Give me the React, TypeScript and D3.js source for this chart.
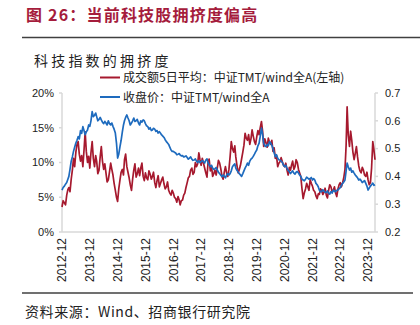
import React from "react";
import * as d3 from "d3";

const startMonth = "2012-12";
const endMonth = "2024-03";

// 成交额5日平均：中证TMT/wind全A (%), semi-monthly (1st, 16th) from 2012-12-01
const turnoverRatio: number[] = [
  3.6, 4.5,
  4.2, 3.9, 5.3, 6.1, 6.4, 5.8, 7.6, 8.9, 10.6, 9.4, 11.5, 12.6,
  13.0, 11.2, 10.2, 11.0, 9.4, 11.8, 14.4, 11.6, 10.0, 10.9, 9.2, 11.4,
  13.0, 10.6, 9.4, 11.0, 10.2, 8.4, 8.9, 10.8, 12.3, 10.2, 9.0, 9.8,
  8.5, 7.2, 7.5, 8.6, 9.9, 9.0, 8.2, 7.0, 6.0, 5.0, 4.4, 6.2,
  7.5, 8.6, 9.0, 8.2, 10.4, 11.2, 9.4, 8.6, 7.8, 6.8, 6.0, 7.6,
  8.9, 9.8, 7.9, 8.4, 9.2, 8.1, 9.2, 9.9, 8.0, 7.4, 8.5, 7.8,
  7.5, 8.8, 8.3, 7.6, 8.0, 8.6, 7.1, 6.4, 7.4, 8.1, 6.5, 7.0,
  7.5, 7.9, 6.9, 6.2, 6.5, 7.2, 6.0, 5.6, 5.3, 6.0, 5.6, 5.0,
  4.8, 4.3, 5.1, 4.6, 3.9, 4.5, 4.6, 5.3, 5.6, 6.4, 7.1, 7.8,
  8.0, 8.9, 9.2, 8.3, 8.6, 10.0, 9.4, 9.8, 11.4, 10.4, 9.6, 10.6,
  9.9, 9.2, 8.5, 7.9, 9.9, 10.5, 8.8, 9.5, 8.0, 8.4, 8.9, 8.2,
  9.2, 10.3, 9.9, 9.1, 8.0, 7.6, 8.6, 9.4, 8.5, 8.0, 9.0, 10.8,
  13.0, 12.0, 11.5, 12.4, 10.8, 9.6, 8.5, 9.0, 9.6, 10.5, 11.5, 12.5,
  14.2, 13.5, 13.2, 14.0, 12.6, 13.4, 14.7, 13.8, 13.0, 12.6, 13.7, 14.6,
  14.0, 15.0, 15.9, 14.5, 12.3, 13.4, 12.8, 12.2, 13.5, 12.9, 12.6, 13.2,
  11.6, 12.1, 10.6, 11.0, 9.4, 9.9, 10.1, 10.7, 10.1, 9.6, 9.4, 9.9,
  8.9, 8.2, 9.3, 8.9, 9.6, 10.2, 9.0, 9.4, 10.4, 10.0, 9.0, 8.5,
  8.0, 6.3, 4.8, 5.6, 6.2, 7.0, 6.5, 6.0, 7.5, 7.0, 6.6, 6.0,
  5.8, 5.2, 4.8, 5.5, 5.4, 6.2, 6.0, 5.4, 5.7, 6.3, 5.3, 4.9,
  6.0, 6.8, 6.5, 5.8, 6.0, 6.5, 5.6, 5.1, 6.2, 6.8, 7.1, 6.5,
  7.1, 7.8, 9.0, 12.5, 18.0, 14.0, 12.3, 14.5, 13.2, 11.5, 10.4, 11.3,
  12.3, 10.8, 9.5, 8.8, 8.5, 9.3, 8.9, 8.2, 8.0, 8.6, 7.5, 6.8,
  7.1, 9.2, 13.0, 11.8, 10.4,
];

// 收盘价：中证TMT/wind全A, semi-monthly (1st, 16th) from 2012-12-01
const priceRatio: number[] = [
  0.351, 0.36,
  0.365, 0.372, 0.378, 0.39, 0.40, 0.425, 0.455, 0.47, 0.49, 0.505, 0.52, 0.53,
  0.543, 0.535, 0.565, 0.555, 0.579, 0.565, 0.55, 0.56, 0.567, 0.585, 0.58, 0.6,
  0.633, 0.615, 0.62, 0.628, 0.615, 0.6, 0.605, 0.612, 0.603, 0.595, 0.59, 0.598,
  0.592, 0.585, 0.60, 0.59, 0.585, 0.592, 0.58, 0.57, 0.556, 0.52, 0.466, 0.48,
  0.507, 0.53, 0.56, 0.585, 0.60, 0.612, 0.621, 0.61, 0.60, 0.585, 0.592, 0.6,
  0.61, 0.598, 0.60, 0.605, 0.592, 0.585, 0.60, 0.595, 0.603, 0.6, 0.59, 0.582,
  0.579, 0.57, 0.575, 0.565, 0.567, 0.573, 0.57, 0.562, 0.565, 0.556, 0.561, 0.555,
  0.549, 0.545, 0.54, 0.532, 0.525, 0.52, 0.515, 0.505, 0.495, 0.49, 0.49, 0.487,
  0.484, 0.478, 0.48, 0.482, 0.477, 0.474, 0.475, 0.47, 0.471, 0.474, 0.468, 0.462,
  0.466, 0.47, 0.462, 0.458, 0.459, 0.463, 0.455, 0.45, 0.456, 0.45, 0.453, 0.457,
  0.453, 0.448, 0.459, 0.463, 0.45, 0.442, 0.435, 0.44, 0.43, 0.425, 0.428, 0.432,
  0.423, 0.415, 0.41, 0.404, 0.399, 0.405, 0.40, 0.395, 0.405, 0.41, 0.405, 0.41,
  0.42, 0.435, 0.441, 0.445, 0.43, 0.422, 0.416, 0.41, 0.405, 0.4, 0.41, 0.42,
  0.43, 0.438, 0.448, 0.44, 0.455, 0.462, 0.466, 0.472, 0.48, 0.488, 0.495, 0.51,
  0.52, 0.545, 0.574, 0.55, 0.52, 0.51, 0.507, 0.515, 0.51, 0.525, 0.52, 0.512,
  0.50, 0.485, 0.471, 0.478, 0.465, 0.46, 0.459, 0.455, 0.45, 0.44, 0.435, 0.44,
  0.43, 0.422, 0.417, 0.41, 0.415, 0.42, 0.412, 0.408, 0.415, 0.418, 0.412, 0.405,
  0.40, 0.39, 0.387, 0.384, 0.39, 0.397, 0.394, 0.39, 0.392, 0.396, 0.387, 0.392,
  0.387, 0.375, 0.37, 0.362, 0.351, 0.345, 0.345, 0.352, 0.348, 0.343, 0.342, 0.348,
  0.340, 0.336, 0.345, 0.34, 0.351, 0.347, 0.345, 0.35, 0.351, 0.356, 0.36, 0.368,
  0.375, 0.38, 0.387, 0.42, 0.448, 0.435, 0.423, 0.43, 0.415, 0.42, 0.412, 0.405,
  0.40, 0.395, 0.387, 0.39, 0.385, 0.378, 0.381, 0.385, 0.375, 0.365, 0.351, 0.358,
  0.365, 0.37, 0.376, 0.368, 0.37,
];

const leftTicks: number[] = [0, 5, 10, 15, 20];
const rightTicks: number[] = [0.2, 0.3, 0.4, 0.5, 0.6, 0.7];
const xTickLabels: string[] = [
  "2012-12", "2013-12", "2014-12", "2015-12", "2016-12", "2017-12",
  "2018-12", "2019-12", "2020-12", "2021-12", "2022-12", "2023-12",
];

const titleText = "图 26：当前科技股拥挤度偏高";
const chartTitle = "科技指数的拥挤度";
const legendRed = "成交额5日平均：中证TMT/wind全A(左轴)";
const legendBlue = "收盘价：中证TMT/wind全A";
const sourceText = "资料来源：Wind、招商银行研究院";

const RED = "#A6192E";
const BLUE = "#1E6BBE";
const TITLE = "#A51C3C";
const AXIS = "#D9D9D9";
const CJK = "'Noto Sans CJK SC', 'Liberation Sans', sans-serif";
const LAT = "'Liberation Sans', Arial, sans-serif";

export default function App() {
  const parseM = d3.timeParse("%Y-%m");
  const start = parseM(startMonth) as Date;
  const end = parseM(endMonth) as Date;
  const dates: Date[] = [];
  d3.timeMonth.range(start, end).forEach((m) => {
    dates.push(m);
    dates.push(d3.timeDay.offset(m, 15));
  });
  dates.push(end);

  const plot = { left: 62, right: 375, top: 93, bottom: 232 };
  const x = d3.scaleTime().domain([start, end]).range([plot.left, plot.right]);
  const yL = d3.scaleLinear().domain([0, 20]).range([plot.bottom, plot.top]);
  const yR = d3.scaleLinear().domain([0.2, 0.7]).range([plot.bottom, plot.top]);

  const redLine = d3
    .line<number>()
    .x((_, i) => x(dates[i]))
    .y((d) => yL(d));
  const blueLine = d3
    .line<number>()
    .x((_, i) => x(dates[i]))
    .y((d) => yR(d));

  return (
    <svg
      width={420}
      height={325}
      style={{ position: "absolute", left: 0, top: 0, background: "#fff" }}
    >
      <text
        x={26}
        y={21}
        fill={TITLE}
        fontFamily={CJK}
        fontWeight={700}
        fontSize={16}
        letterSpacing={1.2}
      >
        {titleText}
      </text>
      <line x1={22} x2={420} y1={37.5} y2={37.5} stroke="#404040" strokeWidth={1.5} />

      <text x={34} y={66} fontFamily={CJK} fontSize={14} letterSpacing={3.2} fill="#222">
        {chartTitle}
      </text>

      {/* legend */}
      <line x1={100} x2={120} y1={77.5} y2={77.5} stroke={RED} strokeWidth={2} />
      <text x={123} y={82} fontFamily={CJK} fontSize={12} fill="#222">
        {legendRed}
      </text>
      <line x1={100} x2={120} y1={97} y2={97} stroke={BLUE} strokeWidth={2} />
      <text x={123} y={101.5} fontFamily={CJK} fontSize={12} fill="#222">
        {legendBlue}
      </text>

      {/* axes */}
      <line x1={plot.left} x2={plot.left} y1={plot.top} y2={plot.bottom} stroke={AXIS} strokeWidth={1.5} />
      <line x1={plot.right} x2={plot.right} y1={plot.top} y2={plot.bottom} stroke={AXIS} strokeWidth={1.5} />
      <line x1={plot.left} x2={plot.right} y1={plot.bottom} y2={plot.bottom} stroke={AXIS} strokeWidth={1.5} />

      {leftTicks.map((t) => (
        <g key={"l" + t}>
          <line x1={plot.left - 3} x2={plot.left} y1={yL(t)} y2={yL(t)} stroke={AXIS} strokeWidth={1.5} />
          <text
            x={54}
            y={yL(t)}
            dy="0.35em"
            textAnchor="end"
            fontFamily={LAT}
            fontSize={11}
            fill="#222"
          >
            {t + "%"}
          </text>
        </g>
      ))}
      {rightTicks.map((t) => (
        <g key={"r" + t}>
          <line x1={plot.right} x2={plot.right + 3} y1={yR(t)} y2={yR(t)} stroke={AXIS} strokeWidth={1.5} />
          <text
            x={385}
            y={yR(t)}
            dy="0.35em"
            fontFamily={LAT}
            fontSize={11}
            fill="#222"
          >
            {t.toFixed(1)}
          </text>
        </g>
      ))}
      {xTickLabels.map((lab) => {
        const px = x(parseM(lab) as Date);
        return (
          <text
            key={lab}
            transform={`translate(${px},${238}) rotate(-90)`}
            dy="0.35em"
            textAnchor="end"
            fontFamily={LAT}
            fontSize={12}
            fill="#222"
          >
            {lab}
          </text>
        );
      })}

      <path d={redLine(turnoverRatio) || ""} fill="none" stroke={RED} strokeWidth={1.7} strokeLinejoin="round" />
      <path d={blueLine(priceRatio) || ""} fill="none" stroke={BLUE} strokeWidth={1.7} strokeLinejoin="round" />

      <line x1={22} x2={413} y1={293} y2={293} stroke="#404040" strokeWidth={1.5} />
      <text x={25} y={317} fontFamily={CJK} fontSize={14} letterSpacing={0.6} fill="#222">
        {sourceText}
      </text>
    </svg>
  );
}
